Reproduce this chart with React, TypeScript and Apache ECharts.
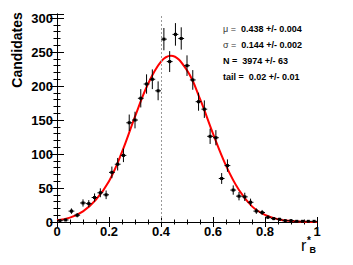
import React, { useEffect, useRef } from "react";
import * as echarts from "echarts";

// Histogram: 45 bins on [0, 1]
const binCount = 45;
const counts = [
  2, 3, 16, 10, 28, 27, 36, 43, 40, 73,
  85, 98, 146, 150, 182, 203, 210, 193, 269, 236,
  276, 270, 230, 209, 177, 166, 126, 124, 64, 83,
  47, 38, 37, 29, 16, 14, 7, 5, 4, 2,
  2, 1, 1, 1, 1,
];

// Fit curve
const curveX = [0, 0.05, 0.1, 0.15, 0.2, 0.25, 0.3, 0.35, 0.4, 0.438, 0.5, 0.55, 0.6, 0.65, 0.7, 0.75, 0.8, 0.85, 0.9, 0.95, 1.0];
const curveY = [2.5, 6.5, 15.6, 33, 60, 103, 155, 203, 236, 244.7, 223, 181, 130, 83, 47, 23, 10.4, 4.1, 1.4, 0.4, 0.1];

const xTicks = [0, 0.2, 0.4, 0.6, 0.8, 1];
const yTicks = [0, 50, 100, 150, 200, 250, 300];
const cutX = 0.4;

const statLines = [
  { sym: "\u03bc =", val: "  0.438 +/- 0.004" },
  { sym: "\u03c3 =", val: "  0.144 +/- 0.002" },
  { sym: "N =", val: "  3974 +/- 63" },
  { sym: "tail =", val: "  0.02 +/- 0.01" },
];

const FONT = "'Liberation Sans', Arial, Helvetica, sans-serif";

export default function App() {
  const ref = useRef<HTMLDivElement>(null);
  useEffect(() => {
    if (!ref.current) return;
    const chart = echarts.init(ref.current, null, { renderer: "svg" });
    const bw = 1 / binCount;
    const points = counts.map((c, i) => [(i + 0.5) * bw, c, Math.sqrt(c), bw / 2]);
    const curve = curveX.map((x, i) => [x, curveY[i]]);
    const yMax = 306;

    const axisLine = { show: true, lineStyle: { color: "#000", width: 1 } };
    const labelStyle = { color: "#000", fontSize: 13, fontWeight: "bold" as const, fontFamily: FONT };

    const option: any = {
      animation: false,
      grid: { left: 57, right: 36, top: 14, bottom: 43, containLabel: false },
      xAxis: [
        {
          type: "value", min: 0, max: 1, interval: 0.2, position: "bottom",
          axisLine,
          axisTick: { show: true, inside: true, length: 5, lineStyle: { color: "#000" } },
          minorTick: { show: true, splitNumber: 4, length: 2.5, lineStyle: { color: "#000" } },
          splitLine: { show: false },
          axisLabel: { ...labelStyle, margin: 3, formatter: (v: number) => (xTicks.some((t) => Math.abs(t - v) < 1e-9) ? String(+v.toFixed(1)) : "") },
        },
        {
          type: "value", min: 0, max: 1, interval: 0.2, position: "top",
          axisLine,
          axisTick: { show: true, inside: true, length: 5, lineStyle: { color: "#000" } },
          minorTick: { show: true, splitNumber: 4, length: 2.5, lineStyle: { color: "#000" } },
          splitLine: { show: false },
          axisLabel: { show: false },
        },
      ],
      yAxis: [
        {
          type: "value", min: 0, max: yMax, interval: 50, position: "left",
          axisLine,
          axisTick: { show: true, inside: true, length: 7, lineStyle: { color: "#000" } },
          minorTick: { show: true, splitNumber: 5, length: 3.5, lineStyle: { color: "#000" } },
          splitLine: { show: false },
          axisLabel: { ...labelStyle, margin: 4, formatter: (v: number) => (yTicks.includes(v) ? String(v) : "") },
        },
        {
          type: "value", min: 0, max: yMax, interval: 50, position: "right",
          axisLine,
          axisTick: { show: true, inside: true, length: 7, lineStyle: { color: "#000" } },
          minorTick: { show: true, splitNumber: 5, length: 3.5, lineStyle: { color: "#000" } },
          splitLine: { show: false },
          axisLabel: { show: false },
        },
      ],
      series: [
        {
          type: "line",
          data: curve,
          xAxisIndex: 0, yAxisIndex: 0,
          smooth: 0.4,
          showSymbol: false,
          lineStyle: { color: "#ff0000", width: 2 },
          z: 3,
          markLine: {
            silent: true,
            symbol: ["none", "none"],
            label: { show: false },
            lineStyle: { color: "#999", width: 1, type: [2, 2] },
            data: [{ xAxis: cutX }],
          },
        },
        {
          type: "custom",
          xAxisIndex: 0, yAxisIndex: 0,
          data: points,
          encode: { x: 0, y: 1 },
          z: 4,
          renderItem: (params: any, api: any) => {
            const x = api.value(0);
            const y = api.value(1);
            const e = api.value(2);
            const hw = api.value(3);
            const c = api.coord([x, y]);
            const l = api.coord([x - hw, y]);
            const r = api.coord([x + hw, y]);
            const lo = api.coord([x, Math.max(0, y - e)]);
            const hi = api.coord([x, y + e]);
            return {
              type: "group",
              children: [
                { type: "line", shape: { x1: l[0], y1: c[1], x2: r[0], y2: c[1] }, style: { stroke: "#000", lineWidth: 1 } },
                { type: "line", shape: { x1: c[0], y1: lo[1], x2: c[0], y2: hi[1] }, style: { stroke: "#000", lineWidth: 1 } },
                { type: "rect", shape: { x: c[0] - 1.5, y: c[1] - 1.5, width: 3, height: 3 }, style: { fill: "#000" } },
              ],
            };
          },
        },
      ],
      graphic: [
        {
          type: "text", x: 17, y: 50, rotation: Math.PI / 2,
          style: { text: "Candidates", font: `bold 14px ${FONT}`, fill: "#000", textAlign: "center", textVerticalAlign: "middle" },
        },
        { type: "text", x: 301, y: 245, style: { text: "r", font: `16px ${FONT}`, fill: "#000", textAlign: "left", textVerticalAlign: "middle" } },
        { type: "text", x: 307, y: 240, style: { text: "*", font: `bold 10px ${FONT}`, fill: "#000", textAlign: "left", textVerticalAlign: "middle" } },
        { type: "text", x: 309.5, y: 250, style: { text: "B", font: `bold 9px ${FONT}`, fill: "#000", textAlign: "left", textVerticalAlign: "middle" } },
        ...statLines.map((s, i) => ({
          type: "text", x: 223, y: 29 + i * 16,
          style: {
            text: `{a|${s.sym}}{b|${s.val}}`,
            textVerticalAlign: "middle",
            rich: {
              a: { font: `${i < 2 ? "" : "bold "}9px ${FONT}`, fill: i < 2 ? "#333" : "#000" },
              b: { font: `bold 9px ${FONT}`, fill: "#000" },
            },
          },
        })),
      ],
    };
    chart.setOption(option);
    return () => chart.dispose();
  }, []);
  return (
    <div
      ref={ref}
      style={{ position: "fixed", left: 0, top: 0, width: 353, height: 265, background: "#fff" }}
    />
  );
}
